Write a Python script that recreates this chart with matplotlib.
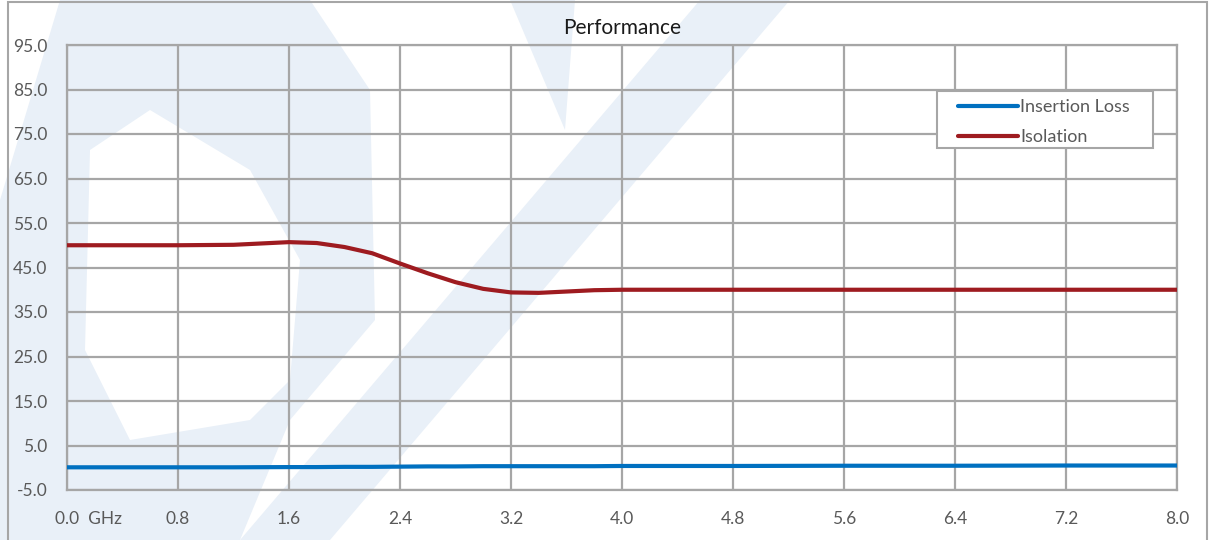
import numpy as np
import matplotlib.pyplot as plt
from matplotlib.patches import Polygon, Rectangle
from matplotlib.transforms import ScaledTranslation

# Data
freq = [0.0, 0.4, 0.8, 1.2, 1.6, 1.8, 2.0, 2.2, 2.4, 2.6, 2.8, 3.0, 3.2, 3.4,
        3.6, 3.8, 4.0, 4.8, 5.6, 6.4, 7.2, 8.0]
isolation = [50.0, 50.0, 50.0, 50.1, 50.7, 50.5, 49.6, 48.2, 45.9, 43.7, 41.7,
             40.2, 39.4, 39.3, 39.6, 39.9, 40.0, 40.0, 40.0, 40.0, 40.0, 40.0]
insertion_loss = [0.1, 0.1, 0.1, 0.1, 0.15, 0.15, 0.2, 0.2, 0.25, 0.3, 0.3,
                  0.35, 0.35, 0.35, 0.35, 0.35, 0.4, 0.4, 0.45, 0.45, 0.5, 0.5]

x_ticks = [0.0, 0.8, 1.6, 2.4, 3.2, 4.0, 4.8, 5.6, 6.4, 7.2, 8.0]
x_labels = ["0.0  GHz", "0.8", "1.6", "2.4", "3.2", "4.0", "4.8", "5.6", "6.4", "7.2", "8.0"]
y_ticks = [-5, 5, 15, 25, 35, 45, 55, 65, 75, 85, 95]

W, H = 1213, 540
GRID = "#a6a6a6"
TXT = "#595959"
WM = "#e9f0f8"

plt.rcParams['font.family'] = ['Lato', 'DejaVu Sans']

fig = plt.figure(figsize=(W / 100, H / 100), dpi=100)


def fpoly(pts, color, z):
    # pixel coords (origin top-left) -> figure fraction
    p = [(x / W, 1 - y / H) for x, y in pts]
    fig.patches.append(Polygon(p, closed=True, transform=fig.transFigure,
                               facecolor=color, edgecolor='none', zorder=z))

# rough watermark logo, kept behind the axes
fpoly([(0, 200), (60, 0), (310, 0), (370, 90), (375, 320), (290, 420),
       (240, 540), (0, 540)], WM, -3)
fpoly([(90, 150), (150, 110), (250, 170), (300, 260), (290, 380),
       (250, 420), (130, 440), (85, 350)], "white", -2)
fpoly([(700, 0), (790, 0), (330, 540), (240, 540)], WM, -1)
fpoly([(510, 0), (575, 0), (565, 130)], WM, -1)

# outer frame
fig.patches.append(Rectangle((8 / W, -0.01), (1207 - 8) / W, 1 - 2 / H + 0.01,
                             transform=fig.transFigure, fill=False,
                             edgecolor=GRID, linewidth=1.5, zorder=2))

ax = fig.add_axes([67 / W, 1 - 490 / H, (1177 - 67) / W, (490 - 45) / H])
ax.set_facecolor('none')

ax.plot(freq, insertion_loss, color="#0070c0", linewidth=3, label="Insertion Loss",
        solid_capstyle='round', zorder=4)
ax.plot(freq, isolation, color="#9e1b20", linewidth=3, label="Isolation",
        solid_capstyle='round', zorder=4)

ax.set_xlim(0, 8)
ax.set_ylim(-5, 95)
ax.set_xticks(x_ticks)
ax.set_xticklabels(x_labels)
ax.set_yticks(y_ticks)
ax.set_yticklabels([f"{v:.1f}" for v in y_ticks])
ax.tick_params(length=0, labelsize=12.5, labelcolor=TXT)
ax.tick_params(axis='x', pad=15)
ax.tick_params(axis='y', pad=14)
ax.grid(True, color=GRID, linewidth=1.6)
ax.set_axisbelow(True)
for s in ax.spines.values():
    s.set_color(GRID)
    s.set_linewidth(1.6)

# "0.0" sits on the tick, "GHz" trails to the right
first = ax.get_xticklabels()[0]
first.set_horizontalalignment('left')
first.set_transform(first.get_transform() + ScaledTranslation(-0.12, 0, fig.dpi_scale_trans))

ax.set_title("Performance", fontsize=15, color="#1a1a1a", pad=8)

# legend box drawn by hand so the padding matches
ax.add_patch(Rectangle((0.7838, 0.7685), 0.1946, 0.1281, transform=ax.transAxes,
                       facecolor='white', edgecolor=GRID, linewidth=1.5, zorder=5))
leg = ax.legend(loc='upper left', bbox_to_anchor=(0.8027, 0.879), fontsize=13,
                frameon=False, handlelength=3.3, handletextpad=0.15,
                borderpad=0, labelspacing=0.8, borderaxespad=0)
leg.set_zorder(6)
for t in leg.get_texts():
    t.set_color(TXT)

fig.savefig("out.png", dpi=100)
